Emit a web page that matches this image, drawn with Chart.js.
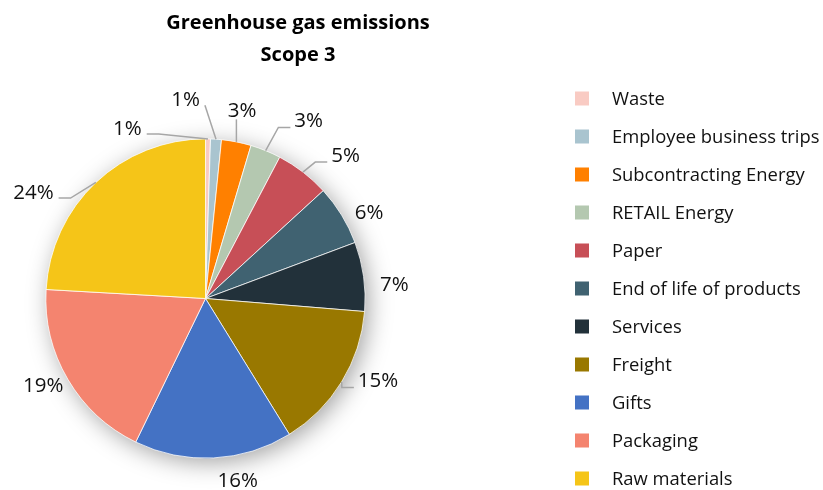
<!DOCTYPE html>
<html>
<head>
<meta charset="utf-8">
<script src="https://cdn.jsdelivr.net/npm/chart.js@4.4.1/dist/chart.umd.min.js"></script>
<style>
  html, body { margin: 0; padding: 0; background: #ffffff; }
  #wrap { position: relative; width: 823px; height: 490px; }
</style>
</head>
<body>
<div id="wrap"><canvas id="c" width="823" height="490"></canvas></div>
<script>
// ---- data ----
const categories = [
  'Waste', 'Employee business trips', 'Subcontracting Energy', 'RETAIL Energy',
  'Paper', 'End of life of products', 'Services', 'Freight', 'Gifts',
  'Packaging', 'Raw materials'
];
const shares = [0.5, 1.1, 3.0, 3.1, 5.5, 6.1, 7.0, 14.9, 16.0, 18.7, 24.1];
const pctLabels = ['1%', '1%', '3%', '3%', '5%', '6%', '7%', '15%', '16%', '19%', '24%'];
const titleLines = ['Greenhouse gas emissions', 'Scope 3'];

// ---- styling ----
const colors = ['#F9CBC3', '#A9C4CF', '#FF8000', '#B4C8B0', '#C74F57', '#406271',
                '#22313A', '#997800', '#4472C4', '#F4846F', '#F5C518'];
// label nudges relative to a radial anchor just outside the pie
const labelNudge = [[-81, 13], [-32, -16], [1, -8], [34, -8], [28, 2], [7, 10],
                    [7, 11], [16, -14], [23, -2], [-4, -6], [-46, 27]];
// leader line style: 'none' | 'left' (label left of arc) | 'right' | 'diag' | 'down'
const leaderStyle = ['left', 'diag', 'down', 'right', 'right', 'none',
                     'none', 'right', 'none', 'none', 'left'];

const FONT = "'Open Sans', 'Noto Sans', sans-serif";

const shadowPlugin = {
  id: 'pieShadow',
  beforeDatasetsDraw(chart) {
    const meta = chart.getDatasetMeta(0);
    if (!meta.data.length) return;
    const a = meta.data[0];
    const ctx = chart.ctx;
    ctx.save();
    ctx.shadowColor = 'rgba(0,0,0,0.38)';
    ctx.shadowBlur = 24;
    ctx.shadowOffsetX = 4;
    ctx.shadowOffsetY = 5;
    ctx.fillStyle = '#ffffff';
    ctx.beginPath();
    ctx.arc(a.x, a.y, a.outerRadius - 1, 0, Math.PI * 2);
    ctx.fill();
    ctx.restore();
  }
};

const labelPlugin = {
  id: 'pieLabels',
  afterDatasetsDraw(chart) {
    const ctx = chart.ctx;
    const meta = chart.getDatasetMeta(0);
    ctx.save();
    ctx.font = '20.5px ' + FONT;
    ctx.textAlign = 'center';
    ctx.textBaseline = 'middle';
    meta.data.forEach((arc, i) => {
      const mid = (arc.startAngle + arc.endAngle) / 2;
      const R = arc.outerRadius;
      const ax = arc.x + Math.cos(mid) * (R + 24);
      const ay = arc.y + Math.sin(mid) * (R + 24);
      const cx = ax + labelNudge[i][0];
      const cy = ay + labelNudge[i][1];
      const w = ctx.measureText(pctLabels[i]).width;
      const px = arc.x + Math.cos(mid) * R;
      const py = arc.y + Math.sin(mid) * R;
      const st = leaderStyle[i];
      if (st !== 'none') {
        ctx.strokeStyle = '#A6A6A6';
        ctx.lineWidth = 1.5;
        ctx.beginPath();
        if (st === 'left') {
          const sx = cx + w / 2 + 5, sy = cy + 6;
          ctx.moveTo(sx, sy); ctx.lineTo(sx + 12, sy); ctx.lineTo(px, py);
        } else if (st === 'right') {
          const sx = cx - w / 2 - 4, sy = cy + 7;
          ctx.moveTo(sx, sy); ctx.lineTo(sx - 12, sy); ctx.lineTo(px, py);
        } else if (st === 'diag') {
          ctx.moveTo(cx + w / 2 + 5, cy + 6); ctx.lineTo(px, py);
        } else if (st === 'down') {
          ctx.moveTo(px, cy + 9); ctx.lineTo(px, py);
        }
        ctx.stroke();
      }
      ctx.fillStyle = '#111111';
      ctx.fillText(pctLabels[i], cx, cy + 1);
    });
    ctx.restore();
  }
};

const titlePlugin = {
  id: 'customTitle',
  afterDraw(chart) {
    const ctx = chart.ctx;
    ctx.save();
    ctx.font = 'bold 20px ' + FONT;
    ctx.fillStyle = '#000000';
    ctx.textAlign = 'center';
    ctx.textBaseline = 'middle';
    ctx.fillText(titleLines[0], 298, 23);
    ctx.fillText(titleLines[1], 298, 55);
    ctx.restore();
  }
};

const legendPlugin = {
  id: 'customLegend',
  afterDraw(chart) {
    const ctx = chart.ctx;
    const bg = chart.data.datasets[0].backgroundColor;
    ctx.save();
    ctx.font = '18.4px ' + FONT;
    ctx.textAlign = 'left';
    ctx.textBaseline = 'middle';
    chart.data.labels.forEach((lab, i) => {
      const y = 98.5 + i * 38;
      ctx.fillStyle = bg[i];
      ctx.fillRect(575, y - 7, 14, 14);
      ctx.fillStyle = '#111111';
      ctx.fillText(lab, 612, y + 1.5);
    });
    ctx.restore();
  }
};

new Chart(document.getElementById('c'), {
  type: 'pie',
  data: {
    labels: categories,
    datasets: [{
      data: shares,
      backgroundColor: colors,
      borderColor: '#ffffff',
      borderWidth: 0.75
    }]
  },
  options: {
    responsive: false,
    animation: false,
    layout: { padding: { left: 45.5, right: 457.5, top: 138.5, bottom: 31.5 } },
    plugins: {
      legend: { display: false },
      title: { display: false },
      tooltip: { enabled: false }
    }
  },
  plugins: [shadowPlugin, labelPlugin, titlePlugin, legendPlugin]
});
</script>
</body>
</html>
